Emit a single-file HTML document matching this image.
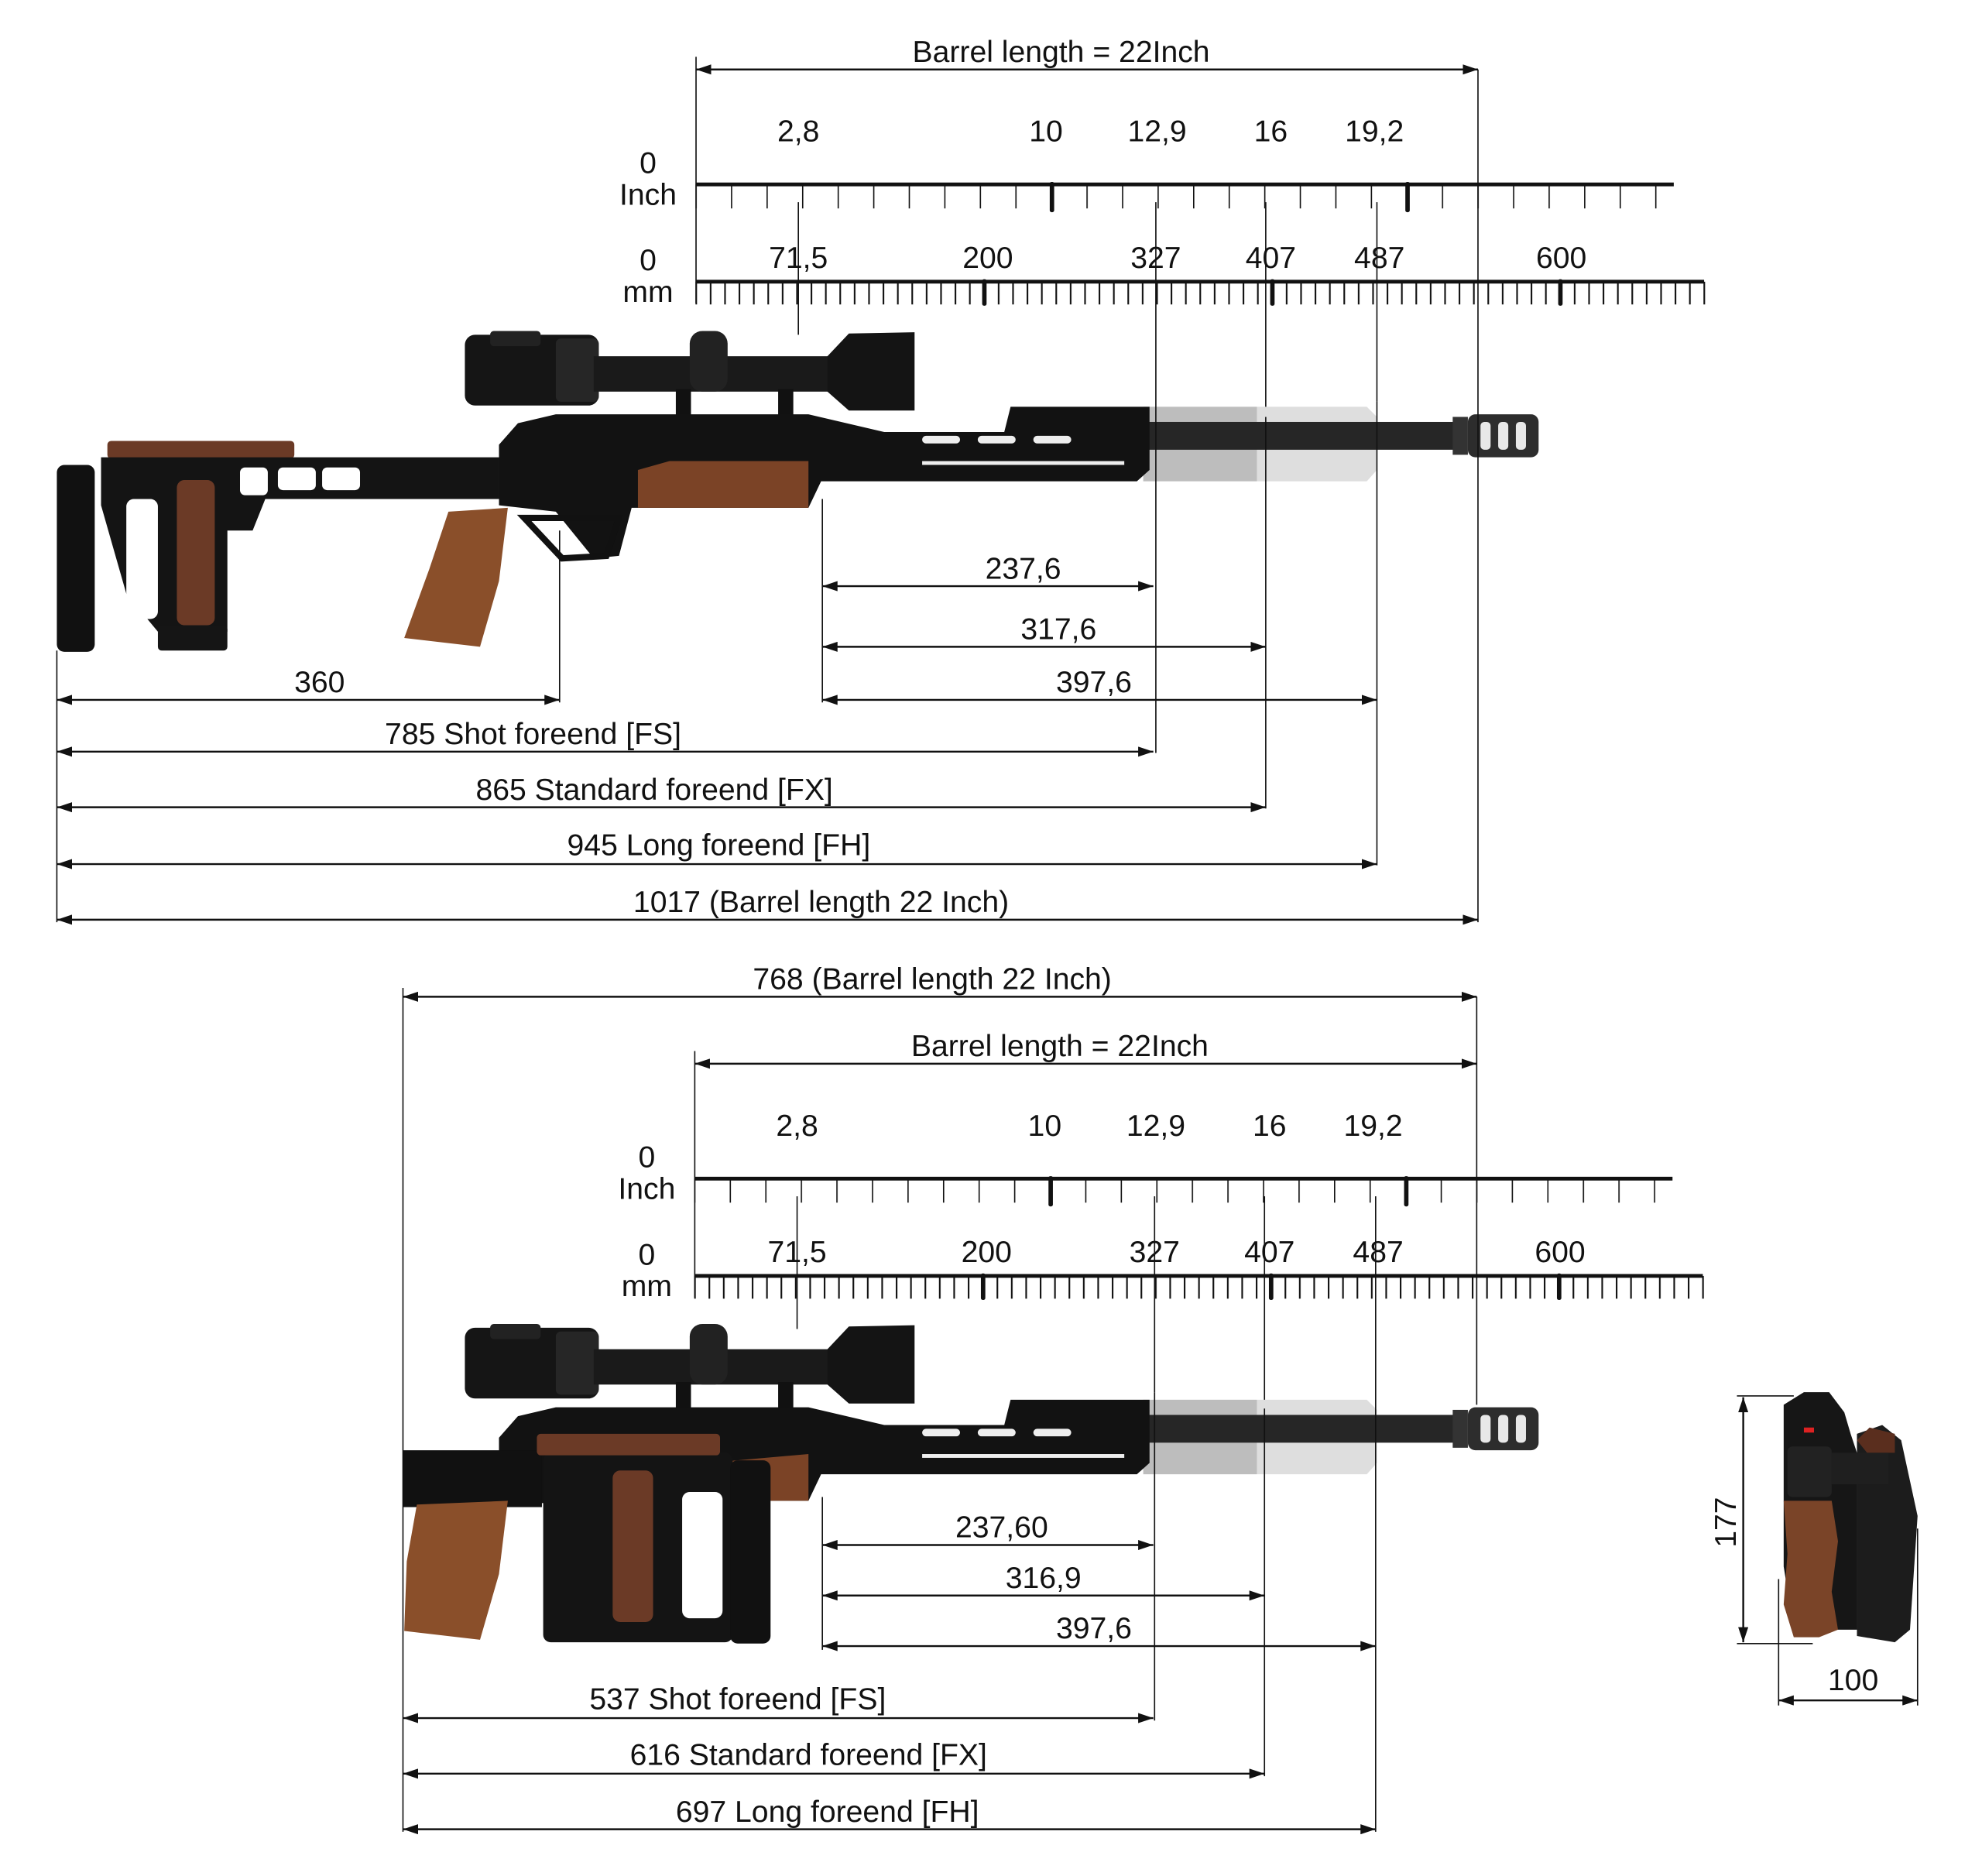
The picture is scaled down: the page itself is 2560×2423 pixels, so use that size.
<!DOCTYPE html>
<html><head><meta charset="utf-8"><style>
html,body{margin:0;padding:0;background:#fff;}
svg{display:block;}
text{font-family:"Liberation Sans",sans-serif;font-size:24px;fill:#111;text-anchor:middle;}
</style></head><body>
<svg width="2560" height="2423" viewBox="0 0 1569 1485" preserveAspectRatio="none" xmlns="http://www.w3.org/2000/svg">
<defs>
<marker id="a" viewBox="0 0 12 8" refX="12" refY="4" markerWidth="12" markerHeight="8" markerUnits="userSpaceOnUse" orient="auto-start-reverse"><path d="M0,0 L12,4 L0,8 z" fill="#111"/></marker>
<pattern id="pi" x="550.5" y="0" width="28.14" height="2000" patternUnits="userSpaceOnUse"><rect x="0" y="0" width="1" height="2000" fill="#111"/></pattern>
<pattern id="pm" x="550.5" y="0" width="11.4" height="2000" patternUnits="userSpaceOnUse"><rect x="0" y="0" width="1.3" height="2000" fill="#111"/></pattern>
</defs>
<g>
  <g stroke="#111" stroke-width="1">
    <line x1="551" y1="45" x2="551" y2="240"/>
    <line x1="632" y1="160" x2="632" y2="265"/>
    <line x1="915" y1="160" x2="915" y2="315"/>
    <line x1="1002" y1="160" x2="1002" y2="330"/>
    <line x1="1090" y1="160" x2="1090" y2="318"/>
  </g>
  <line x1="551" y1="55" x2="1170" y2="55" stroke="#111" stroke-width="1.5" marker-start="url(#a)" marker-end="url(#a)"/>
  <text x="840" y="49">Barrel length = 22Inch</text>
  <text x="632" y="112">2,8</text><text x="828" y="112">10</text><text x="916" y="112">12,9</text><text x="1006" y="112">16</text><text x="1088" y="112">19,2</text>
  <text x="513" y="137">0</text><text x="513" y="162">Inch</text>
  <line x1="551" y1="146" x2="1325" y2="146" stroke="#111" stroke-width="3"/>
  <rect x="550.5" y="146" width="775" height="19" fill="url(#pi)"/>
  <rect x="831" y="144" width="3.5" height="24" rx="1.5" fill="#111"/>
  <rect x="1112.5" y="144" width="3.5" height="24" rx="1.5" fill="#111"/>
  <text x="632" y="212">71,5</text><text x="782" y="212">200</text><text x="915" y="212">327</text><text x="1006" y="212">407</text><text x="1092" y="212">487</text><text x="1236" y="212">600</text>
  <text x="513" y="214">0</text><text x="513" y="239">mm</text>
  <line x1="551" y1="223" x2="1349" y2="223" stroke="#111" stroke-width="3"/>
  <rect x="550.5" y="223" width="800" height="18" fill="url(#pm)"/>
  <rect x="777.5" y="221" width="3.5" height="21" rx="1.5" fill="#111"/>
  <rect x="1005.5" y="221" width="3.5" height="21" rx="1.5" fill="#111"/>
  <rect x="1233.5" y="221" width="3.5" height="21" rx="1.5" fill="#111"/>
</g>
<g transform="translate(-1,787)">
  <g stroke="#111" stroke-width="1">
    <line x1="551" y1="45" x2="551" y2="240"/>
    <line x1="632" y1="160" x2="632" y2="265"/>
    <line x1="915" y1="160" x2="915" y2="315"/>
    <line x1="1002" y1="160" x2="1002" y2="330"/>
    <line x1="1090" y1="160" x2="1090" y2="318"/>
  </g>
  <line x1="551" y1="55" x2="1170" y2="55" stroke="#111" stroke-width="1.5" marker-start="url(#a)" marker-end="url(#a)"/>
  <text x="840" y="49">Barrel length = 22Inch</text>
  <text x="632" y="112">2,8</text><text x="828" y="112">10</text><text x="916" y="112">12,9</text><text x="1006" y="112">16</text><text x="1088" y="112">19,2</text>
  <text x="513" y="137">0</text><text x="513" y="162">Inch</text>
  <line x1="551" y1="146" x2="1325" y2="146" stroke="#111" stroke-width="3"/>
  <rect x="550.5" y="146" width="775" height="19" fill="url(#pi)"/>
  <rect x="831" y="144" width="3.5" height="24" rx="1.5" fill="#111"/>
  <rect x="1112.5" y="144" width="3.5" height="24" rx="1.5" fill="#111"/>
  <text x="632" y="212">71,5</text><text x="782" y="212">200</text><text x="915" y="212">327</text><text x="1006" y="212">407</text><text x="1092" y="212">487</text><text x="1236" y="212">600</text>
  <text x="513" y="214">0</text><text x="513" y="239">mm</text>
  <line x1="551" y1="223" x2="1349" y2="223" stroke="#111" stroke-width="3"/>
  <rect x="550.5" y="223" width="800" height="18" fill="url(#pm)"/>
  <rect x="777.5" y="221" width="3.5" height="21" rx="1.5" fill="#111"/>
  <rect x="1005.5" y="221" width="3.5" height="21" rx="1.5" fill="#111"/>
  <rect x="1233.5" y="221" width="3.5" height="21" rx="1.5" fill="#111"/>
</g>
<g>
  <rect x="368" y="265" width="106" height="56" rx="8" fill="#151515"/>
  <rect x="388" y="262" width="40" height="12" rx="3" fill="#222"/>
  <rect x="440" y="268" width="34" height="50" rx="4" fill="#262626"/>
  <rect x="470" y="282" width="195" height="28" fill="#1a1a1a"/>
  <path d="M655,282 L672,264 L724,263 L724,325 L672,325 L655,310 z" fill="#141414"/>
  <rect x="546" y="262" width="30" height="48" rx="10" fill="#222"/>
  <rect x="535" y="308" width="12" height="34" fill="#111"/>
  <rect x="616" y="308" width="12" height="34" fill="#111"/>
  <path d="M905,322 L995,322 L1002,330 L1002,372 L995,381 L905,381 z" fill="#bdbdbd"/>
  <path d="M995,322 L1082,322 L1090,330 L1090,372 L1082,381 L995,381 z" fill="#dedede"/>
  <rect x="905" y="334" width="250" height="22" fill="#262626"/>
  <rect x="1150" y="330" width="12" height="30" fill="#333"/>
  <rect x="1162" y="328" width="56" height="34" rx="6" fill="#2d2d2d"/>
  <rect x="1172" y="334" width="8" height="22" rx="3" fill="#e8e8e8"/>
  <rect x="1186" y="334" width="8" height="22" rx="3" fill="#e8e8e8"/>
  <rect x="1200" y="334" width="8" height="22" rx="3" fill="#e8e8e8"/>
  <path d="M395,352 L410,335 L440,328 L640,328 L700,342 L795,342 L800,322 L910,322 L910,372 L900,381 L650,381 L640,402 L500,402 L490,440 L470,442 L440,405 L395,400 z" fill="#121212"/>
  <g fill="#eee"><rect x="730" y="345" width="30" height="6" rx="3"/><rect x="774" y="345" width="30" height="6" rx="3"/><rect x="818" y="345" width="30" height="6" rx="3"/><rect x="730" y="365" width="160" height="3"/></g>
  <path d="M505,372 L530,365 L640,365 L640,402 L505,402 z" fill="#7b4326"/>
  <path d="M415,410 L490,410 L480,440 L445,442 z" fill="none" stroke="#111" stroke-width="5"/>
  <path d="M355,405 L402,402 L395,460 L380,512 L320,505 L340,450 z" fill="#8a4f2a"/>
  <rect x="85" y="349" width="148" height="14" rx="3" fill="#6b3a26"/>
  <path d="M80,362 L395,362 L395,395 L210,395 L200,420 L180,420 L180,500 L125,500 L100,470 L80,400 z" fill="#141414"/>
  <g fill="#fff"><rect x="220" y="370" width="30" height="18" rx="4"/><rect x="255" y="370" width="30" height="18" rx="4"/><rect x="190" y="370" width="22" height="22" rx="4"/><rect x="100" y="395" width="25" height="95" rx="6"/></g>
  <rect x="140" y="380" width="30" height="115" rx="6" fill="#6b3a26"/>
  <rect x="45" y="368" width="30" height="148" rx="6" fill="#111"/>
  <rect x="125" y="495" width="55" height="20" rx="3" fill="#151515"/>
</g>
<g stroke="#111" stroke-width="1" fill="none">
  <line x1="1002" y1="330" x2="1002" y2="640"/>
  <line x1="1090" y1="318" x2="1090" y2="685"/>
  <line x1="915" y1="315" x2="915" y2="596"/>
  <line x1="1170" y1="55" x2="1170" y2="730"/>
  <line x1="651" y1="395" x2="651" y2="556"/>
  <line x1="443" y1="420" x2="443" y2="556"/>
  <line x1="45" y1="515" x2="45" y2="730"/>
</g>
<g stroke="#111" stroke-width="1.5" marker-start="url(#a)" marker-end="url(#a)">
  <line x1="651" y1="464" x2="913" y2="464"/>
  <line x1="651" y1="512" x2="1002" y2="512"/>
  <line x1="651" y1="554" x2="1090" y2="554"/>
  <line x1="45" y1="554" x2="443" y2="554"/>
  <line x1="45" y1="595" x2="913" y2="595"/>
  <line x1="45" y1="639" x2="1002" y2="639"/>
  <line x1="45" y1="684" x2="1090" y2="684"/>
  <line x1="45" y1="728" x2="1170" y2="728"/>
</g>
<text x="810" y="458">237,6</text><text x="838" y="506">317,6</text><text x="866" y="548">397,6</text><text x="253" y="548">360</text>
<text x="422" y="589">785  Shot foreend [FS]</text>
<text x="518" y="633">865 Standard foreend [FX]</text>
<text x="569" y="677">945 Long foreend [FH]</text>
<text x="650" y="722">1017 (Barrel length 22 Inch)</text>
<g transform="translate(0,786)">
  <rect x="368" y="265" width="106" height="56" rx="8" fill="#151515"/>
  <rect x="388" y="262" width="40" height="12" rx="3" fill="#222"/>
  <rect x="440" y="268" width="34" height="50" rx="4" fill="#262626"/>
  <rect x="470" y="282" width="195" height="28" fill="#1a1a1a"/>
  <path d="M655,282 L672,264 L724,263 L724,325 L672,325 L655,310 z" fill="#141414"/>
  <rect x="546" y="262" width="30" height="48" rx="10" fill="#222"/>
  <rect x="535" y="308" width="12" height="34" fill="#111"/>
  <rect x="616" y="308" width="12" height="34" fill="#111"/>
  <path d="M905,322 L995,322 L1002,330 L1002,372 L995,381 L905,381 z" fill="#bdbdbd"/>
  <path d="M995,322 L1082,322 L1090,330 L1090,372 L1082,381 L995,381 z" fill="#dedede"/>
  <rect x="905" y="334" width="250" height="22" fill="#262626"/>
  <rect x="1150" y="330" width="12" height="30" fill="#333"/>
  <rect x="1162" y="328" width="56" height="34" rx="6" fill="#2d2d2d"/>
  <rect x="1172" y="334" width="8" height="22" rx="3" fill="#e8e8e8"/>
  <rect x="1186" y="334" width="8" height="22" rx="3" fill="#e8e8e8"/>
  <rect x="1200" y="334" width="8" height="22" rx="3" fill="#e8e8e8"/>
  <path d="M395,352 L410,335 L440,328 L640,328 L700,342 L795,342 L800,322 L910,322 L910,372 L900,381 L650,381 L640,402 L500,402 L490,440 L470,442 L440,405 L395,400 z" fill="#121212"/>
  <g fill="#eee"><rect x="730" y="345" width="30" height="6" rx="3"/><rect x="774" y="345" width="30" height="6" rx="3"/><rect x="818" y="345" width="30" height="6" rx="3"/><rect x="730" y="365" width="160" height="3"/></g>
  <path d="M560,372 L640,365 L640,402 L560,402 z" fill="#7b4326"/>
  <rect x="319" y="362" width="110" height="45" fill="#111"/>
  <path d="M330,405 L402,402 L395,460 L380,512 L320,505 L322,450 z" fill="#8a4f2a"/>
  <rect x="430" y="364" width="150" height="150" rx="6" fill="#141414"/>
  <rect x="425" y="349" width="145" height="17" rx="3" fill="#6b3a26"/>
  <rect x="485" y="378" width="32" height="120" rx="6" fill="#6b3a26"/>
  <rect x="578" y="370" width="32" height="145" rx="6" fill="#111"/>
  <rect x="540" y="395" width="32" height="100" rx="6" fill="#fff"/>
</g>
<g stroke="#111" stroke-width="1" fill="none">
  <line x1="319" y1="782" x2="319" y2="1450"/>
  <line x1="651" y1="1185" x2="651" y2="1306"/>
  <line x1="914" y1="1102" x2="914" y2="1362"/>
  <line x1="1001" y1="1115" x2="1001" y2="1406"/>
  <line x1="1089" y1="1105" x2="1089" y2="1450"/>
  <line x1="1169" y1="789" x2="1169" y2="1112"/>
</g>
<g stroke="#111" stroke-width="1.5" marker-start="url(#a)" marker-end="url(#a)">
  <line x1="319" y1="789" x2="1169" y2="789"/>
  <line x1="651" y1="1223" x2="913" y2="1223"/>
  <line x1="651" y1="1263" x2="1001" y2="1263"/>
  <line x1="651" y1="1303" x2="1089" y2="1303"/>
  <line x1="319" y1="1360" x2="913" y2="1360"/>
  <line x1="319" y1="1404" x2="1001" y2="1404"/>
  <line x1="319" y1="1448" x2="1089" y2="1448"/>
</g>
<text x="738" y="783">768 (Barrel length 22 Inch)</text>
<text x="793" y="1217">237,60</text><text x="826" y="1257">316,9</text><text x="866" y="1297">397,6</text>
<text x="584" y="1353">537  Shot foreend [FS]</text>
<text x="640" y="1397">616 Standard foreend [FX]</text>
<text x="655" y="1442">697 Long foreend [FH]</text>
<path d="M1412,1112 L1428,1102 L1448,1102 L1460,1118 L1465,1135 L1470,1150 L1470,1290 L1420,1290 L1412,1240 z" fill="#161616"/>
<path d="M1470,1135 L1490,1128 L1505,1140 L1518,1200 L1512,1290 L1500,1300 L1470,1295 z" fill="#1c1c1c"/>
<path d="M1470,1140 L1480,1130 L1500,1135 L1500,1150 L1478,1150 z" fill="#5a2e1e"/>
<path d="M1412,1188 L1450,1188 L1455,1220 L1450,1260 L1455,1290 L1440,1296 L1420,1296 L1412,1270 L1415,1230 z" fill="#7a4428"/>
<rect x="1428" y="1130" width="8" height="4" fill="#d22"/>
<rect x="1415" y="1145" width="35" height="40" rx="4" fill="#222"/>
<rect x="1450" y="1150" width="45" height="25" fill="#1f1f1f"/>
<g stroke="#111" stroke-width="1" fill="none">
  <line x1="1375" y1="1105" x2="1420" y2="1105"/><line x1="1375" y1="1301" x2="1435" y2="1301"/>
  <line x1="1408" y1="1250" x2="1408" y2="1350"/><line x1="1518" y1="1210" x2="1518" y2="1350"/>
</g>
<g stroke="#111" stroke-width="1.5" marker-start="url(#a)" marker-end="url(#a)">
  <line x1="1380" y1="1106" x2="1380" y2="1300"/>
  <line x1="1408" y1="1346" x2="1518" y2="1346"/>
</g>
<text x="1467" y="1338">100</text>
<text x="0" y="0" transform="translate(1374,1205) rotate(-90)">177</text>
</svg>
</body></html>
